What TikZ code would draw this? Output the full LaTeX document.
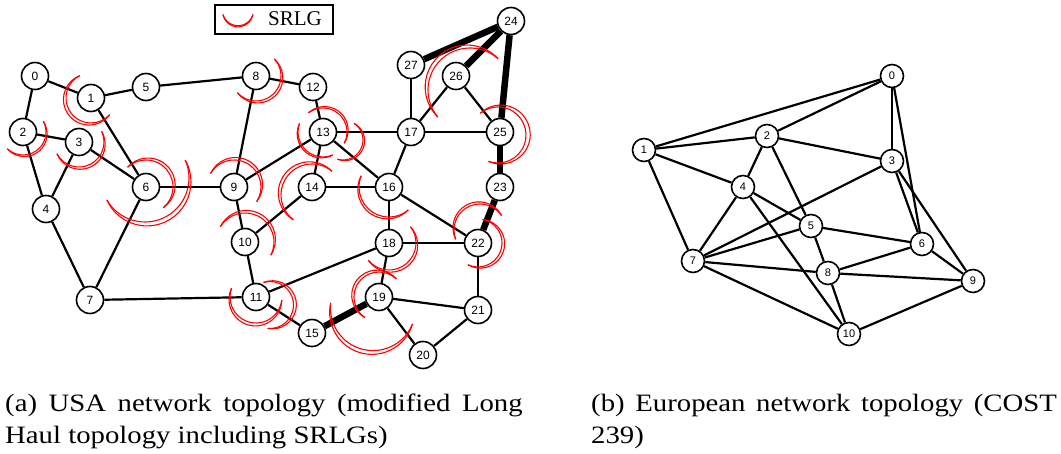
\documentclass[tikz,border=0pt]{standalone}
\usepackage{fontspec}
\setmainfont{Liberation Serif}
\newfontfamily\labelfont{Liberation Sans}
\usetikzlibrary{calc}

\tikzset{
	usnode/.style={draw, circle, line width=1.6pt, fill=white, minimum size=27pt, inner sep=0pt, font=\labelfont\fontsize{12}{12}\selectfont},
	eunode/.style={draw, circle, line width=1.6pt, fill=white, minimum size=23pt, inner sep=0pt, font=\labelfont\fontsize{11}{11}\selectfont},
	edgeline/.style={line width=2.2pt},
	thickline/.style={line width=6.5pt},
	srlgline/.style={red, line width=1.1pt},
	captext/.style={anchor=base west, inner sep=0pt, font=\fontsize{25}{29}\selectfont},
}

% crescent: centre, radius, start angle, end angle
\newcommand{\srlg}[4]{%
	\pgfmathsetmacro{\srlgmid}{(#3+#4)/2}%
	\pgfmathsetmacro{\srlghalf}{(#4-#3)/2}%
	\pgfmathsetmacro{\srlgoff}{0.1*#2}%
	\pgfmathsetmacro{\srlgphi}{atan2(#2*sin(\srlghalf), #2*cos(\srlghalf)-\srlgoff)}%
	\pgfmathsetmacro{\srlgrho}{sqrt((#2*cos(\srlghalf)-\srlgoff)^2+(#2*sin(\srlghalf))^2)}%
	\draw[srlgline] #1 ++(#3:#2) arc[start angle=#3, end angle=#4, radius=#2];
	\draw[srlgline] #1 ++(#3:#2) arc[start angle=\srlgmid-\srlgphi, end angle=\srlgmid+\srlgphi, radius=\srlgrho];
}

\begin{document}
\begin{tikzpicture}[x=1pt, y=1pt]
				\useasboundingbox (0,0) rectangle (1061,-454);
				% USA network
				\node[usnode] (U0)at(35, -76) {0};
				\node[usnode] (U1)at(91, -98) {1};
				\node[usnode] (U2)at(23, -132) {2};
				\node[usnode] (U3)at(79, -142) {3};
				\node[usnode] (U4)at(46, -209) {4};
				\node[usnode] (U5)at(146, -87) {5};
				\node[usnode] (U6)at(146, -187) {6};
				\node[usnode] (U7)at(90, -300) {7};
				\node[usnode] (U8)at(256, -76) {8};
				\node[usnode] (U9)at(234, -187) {9};
				\node[usnode] (U10)at(245, -242) {10};
				\node[usnode] (U11)at(256, -297) {11};
				\node[usnode] (U12)at(313, -87) {12};
				\node[usnode] (U13)at(323, -132) {13};
				\node[usnode] (U14)at(312, -187) {14};
				\node[usnode] (U15)at(312, -333) {15};
				\node[usnode] (U16)at(389, -187) {16};
				\node[usnode] (U17)at(411, -132) {17};
				\node[usnode] (U18)at(389, -243) {18};
				\node[usnode] (U19)at(379, -297) {19};
				\node[usnode] (U20)at(423, -355) {20};
				\node[usnode] (U21)at(478, -310) {21};
				\node[usnode] (U22)at(478, -243) {22};
				\node[usnode] (U23)at(500, -187) {23};
				\node[usnode] (U24)at(511, -21) {24};
				\node[usnode] (U25)at(500, -132) {25};
				\node[usnode] (U26)at(456, -76) {26};
				\node[usnode] (U27)at(411, -65) {27};
				\draw[edgeline] (U0) -- (U1);
				\draw[edgeline] (U0) -- (U2);
				\draw[edgeline] (U1) -- (U5);
				\draw[edgeline] (U1) -- (U6);
				\draw[edgeline] (U5) -- (U8);
				\draw[edgeline] (U2) -- (U3);
				\draw[edgeline] (U2) -- (U4);
				\draw[edgeline] (U3) -- (U4);
				\draw[edgeline] (U3) -- (U6);
				\draw[edgeline] (U4) -- (U7);
				\draw[edgeline] (U6) -- (U7);
				\draw[edgeline] (U6) -- (U9);
				\draw[edgeline] (U8) -- (U9);
				\draw[edgeline] (U8) -- (U12);
				\draw[edgeline] (U9) -- (U13);
				\draw[edgeline] (U9) -- (U10);
				\draw[edgeline] (U12) -- (U13);
				\draw[edgeline] (U13) -- (U17);
				\draw[edgeline] (U13) -- (U14);
				\draw[edgeline] (U13) -- (U16);
				\draw[edgeline] (U10) -- (U14);
				\draw[edgeline] (U14) -- (U16);
				\draw[edgeline] (U16) -- (U17);
				\draw[edgeline] (U17) -- (U27);
				\draw[edgeline] (U17) -- (U26);
				\draw[edgeline] (U17) -- (U25);
				\draw[edgeline] (U26) -- (U25);
				\draw[edgeline] (U16) -- (U18);
				\draw[edgeline] (U16) -- (U22);
				\draw[edgeline] (U18) -- (U22);
				\draw[edgeline] (U18) -- (U11);
				\draw[edgeline] (U18) -- (U19);
				\draw[edgeline] (U10) -- (U11);
				\draw[edgeline] (U7) -- (U11);
				\draw[edgeline] (U11) -- (U15);
				\draw[edgeline] (U19) -- (U21);
				\draw[edgeline] (U19) -- (U20);
				\draw[edgeline] (U20) -- (U21);
				\draw[edgeline] (U22) -- (U21);
				\draw[thickline] (U24) -- (U27);
				\draw[thickline] (U24) -- (U26);
				\draw[thickline] (U24) -- (U25);
				\draw[thickline] (U25) -- (U23);
				\draw[thickline] (U23) -- (U22);
				\draw[thickline] (U15) -- (U19);
				% SRLGs
				\srlg{(U1)}{25}{117}{318}
				\srlg{(U2)}{23}{-133}{28}
				\srlg{(U3)}{25}{-152}{25}
				\srlg{(U6)}{27}{-50}{133}
				\srlg{($(U6)+(-1,9)$)}{44}{-150}{24}
				\srlg{(U8)}{25}{-138}{43}
				\srlg{(U9)}{27}{-33}{150}
				\srlg{(U10)}{29}{-27}{148}
				\srlg{($(U14)+(0,-8)$)}{31}{50}{233}
				\srlg{(U11)}{26}{160}{353}
				\srlg{($(U11)+(14,-8)$)}{23.5}{-96}{106}
				\srlg{(U13)}{24}{-28}{127}
				\srlg{(U13)}{25}{160}{293}
				\srlg{($(U13)+(20,-8)$)}{20}{-106}{56}
				\srlg{(U16)}{30}{158}{310}
				\srlg{(U18)}{27}{-140}{37}
				\srlg{(U19)}{25}{46}{235}
				\srlg{($(U19)+(-6,-11)$)}{42.6}{173}{338}
				\srlg{($(U22)+(2,13)$)}{26}{34}{201}
				\srlg{(U22)}{24}{-115}{79}
				\srlg{($(U25)+(-2,-3)$)}{28}{-110}{129}
				\srlg{($(U26)+(14,-14)$)}{42}{48}{220}
				% legend
				\node[draw, line width=1.6pt, minimum width=118pt, minimum height=29pt, anchor=north west, inner sep=0pt] (legend)at(214, -4) {};
				\coordinate (lgmark)at(238, -10);
				\srlg{(lgmark)}{15.7}{197}{343}
				\node[anchor=west, inner sep=0pt, font=\fontsize{21}{25}\selectfont] (lgtext)at(268, -18.5) {SRLG};
				% COST 239 network
				\node[eunode] (E0)at(892, -76) {0};
				\node[eunode] (E1)at(644, -150) {1};
				\node[eunode] (E2)at(767, -136) {2};
				\node[eunode] (E3)at(892, -161) {3};
				\node[eunode] (E4)at(743, -187) {4};
				\node[eunode] (E5)at(811, -226) {5};
				\node[eunode] (E6)at(922, -244) {6};
				\node[eunode] (E7)at(693, -261) {7};
				\node[eunode] (E8)at(828, -273) {8};
				\node[eunode] (E9)at(973, -281) {9};
				\node[eunode] (E10)at(849, -334) {10};
				\foreach \a/\b in {0/1, 0/2, 0/3, 0/6, 1/2, 1/4, 1/7, 2/3, 2/4, 2/5, 3/7, 3/6, 3/9, 4/5, 4/7, 4/10, 5/7, 5/6, 5/8, 6/8, 6/9, 7/8, 7/10, 8/9, 8/10, 9/10}
					\draw[edgeline] (E\a) -- (E\b);
				% captions
				\node[captext] (capA)at(5, -412) {\scalebox{1.15}[1]{\makebox[450pt][s]{(a) USA network topology (modified Long}}};
				\node[captext] (capAb)at(5, -443) {\scalebox{1.15}[1]{Haul topology including SRLGs)}};
				\node[captext] (capB)at(591, -412) {\scalebox{1.15}[1]{\makebox[405pt][s]{(b) European network topology (COST}}};
				\node[captext] (capBb)at(591, -443) {\scalebox{1.15}[1]{239)}};
			\end{tikzpicture}
\end{document}
